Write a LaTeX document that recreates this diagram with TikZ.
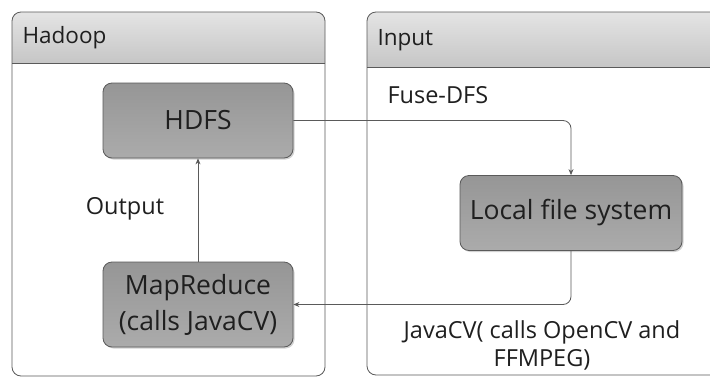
\documentclass[tikz,border=0pt]{standalone}
\usepackage{fontspec}
\setmainfont{Open Sans}
\usetikzlibrary{shadows,arrows.meta}
\definecolor{linec}{HTML}{5A5A5A}
\definecolor{boxtop}{HTML}{969696}
\definecolor{boxbot}{HTML}{ABABAB}
\definecolor{headtop}{HTML}{E4E4E4}
\definecolor{headbot}{HTML}{C6C6C6}
\tikzset{
  procbox/.style={draw=linec, line width=0.8pt, rounded corners=9pt, top color=boxtop, bottom color=boxbot,
    minimum width=190pt, align=center, inner sep=1pt, font=\fontsize{26.5}{36}\selectfont, text=black!88,
    drop shadow={shadow xshift=1.5pt, shadow yshift=-1.5pt, opacity=0.35}},
  frame/.style={draw=linec, line width=0.8pt, rounded corners=9pt},
  head/.style={font=\fontsize{22.5}{26}\selectfont, text=black!88, anchor=west},
  lbl/.style={font=\fontsize{23.5}{28}\selectfont, text=black!88, align=center},
  conn/.style={draw=linec, line width=0.8pt, rounded corners=8pt, -{Stealth[length=6pt,width=5pt]}}
}
\begin{document}
\begin{tikzpicture}[x=1pt,y=-1pt]
\useasboundingbox (0,0) rectangle (710,378);
\clip (0,0) rectangle (710,378);
\fill[white] (0,0) rectangle (710,378);
% Hadoop frame
\begin{scope}
\clip[rounded corners=9pt] (12,12) rectangle (325,376);
\shade[top color=headtop, bottom color=headbot] (12,12) rectangle (325,63);
\end{scope}
\draw[frame] (12,12) rectangle (325,376);
\draw[linec, line width=0.8pt] (12,63) -- (325,63);
\node[head] (hadooplbl) at (19,38) {Hadoop};
% Input frame
\begin{scope}
\clip[rounded corners=9pt] (367,12) rectangle (740,375);
\shade[top color=headtop, bottom color=headbot] (367,12) rectangle (740,67);
\end{scope}
\draw[frame] (367,12) rectangle (740,375);
\draw[linec, line width=0.8pt] (367,67) -- (740,67);
\node[head] (inputlbl) at (374,40) {Input};
% boxes
\node[procbox, minimum height=75pt] (hdfs) at (198,120.5) {HDFS};
\node[procbox, minimum height=85pt] (mr) at (198,304.5) {MapReduce\\(calls JavaCV)};
\node[procbox, minimum width=222pt, minimum height=75pt] (lfs) at (571,213) {Local file system};
% connectors
\coordinate (c1) at (571,121);
\draw[conn] (hdfs.east) -- (hdfs.east -| c1) -- (lfs.north);
\coordinate (c2) at (571,304.5);
\draw[conn] (lfs.south) -- (c2) -- (mr.east);
\draw[conn] (mr.north) -- (hdfs.south);
% labels
\node[lbl, anchor=west] (fuse) at (384,95) {Fuse-DFS};
\node[lbl] (output) at (125,209) {Output};
\node[lbl] (javacv) at (542,345) {JavaCV( calls OpenCV and\\FFMPEG)};
\end{tikzpicture}
\end{document}
